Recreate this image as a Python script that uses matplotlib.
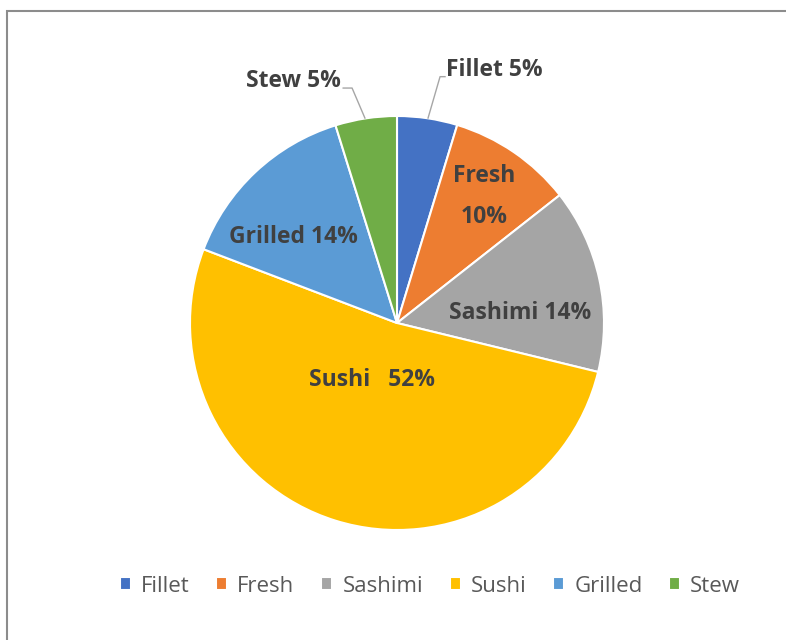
import matplotlib
matplotlib.use("Agg")
import matplotlib.pyplot as plt
from matplotlib.patches import Rectangle
import numpy as np

categories = ["Fillet", "Fresh", "Sashimi", "Sushi", "Grilled", "Stew"]
values = [4.7, 9.7, 14.4, 52.0, 14.4, 4.8]
labels = ["Fillet 5%", "Fresh\n\n10%", "Sashimi 14%", "Sushi   52%", "Grilled 14%", "Stew 5%"]
colors = ["#4472C4", "#ED7D31", "#A5A5A5", "#FFC000", "#5B9BD5", "#70AD47"]

plt.rcParams['font.family'] = ['Open Sans', 'DejaVu Sans']

W, H = 786, 640
fig = plt.figure(figsize=(W / 100, H / 100), dpi=100)
# outer frame
fig.patches.append(Rectangle((7 / W, -0.1), 1.2, (H - 11) / H + 0.1, transform=fig.transFigure,
                             fill=False, edgecolor="#8C8C8C", linewidth=1.5))

cx, cy, r = 397, 323, 207
ax = fig.add_axes([(cx - r) / W, (H - cy - r) / H, 2 * r / W, 2 * r / H])

wedges, _ = ax.pie(values, colors=colors, startangle=90, counterclock=False, radius=1.0,
                   wedgeprops=dict(edgecolor="white", linewidth=1.5))
ax.set_xlim(-1, 1)
ax.set_ylim(-1, 1)
ax.set_aspect("equal")
ax.axis("off")
for w in wedges:
    w.set_clip_on(False)

label_pos = [(0.235, 1.222), (0.42, 0.61), (0.594, 0.048), (-0.121, -0.275), (-0.502, 0.415), (-0.27, 1.17)]
label_ha = ["left", "center", "center", "center", "center", "right"]
label_ls = [1.0, 0.8, 1.0, 1.0, 1.0, 1.0]
for lab, (x, y), ha, ls in zip(labels, label_pos, label_ha, label_ls):
    ax.text(x, y, lab, ha=ha, va="center", fontsize=16.5, fontweight="bold", color="#404040",
            clip_on=False, linespacing=ls)

# leader lines
ax.plot([0.15, 0.208, 0.232], [0.99, 1.19, 1.19], color="#A6A6A6", lw=1, clip_on=False)
ax.plot([-0.155, -0.217, -0.26], [0.99, 1.135, 1.135], color="#A6A6A6", lw=1, clip_on=False)

leg = fig.legend(wedges, categories, loc="center", bbox_to_anchor=(430 / W, 1 - 586 / H), ncol=6,
                 frameon=False, fontsize=16, handlelength=0.5, handleheight=0.5,
                 handletextpad=0.45, columnspacing=1.2)
for t in leg.get_texts():
    t.set_color("#595959")

fig.savefig("out.png", dpi=100)
